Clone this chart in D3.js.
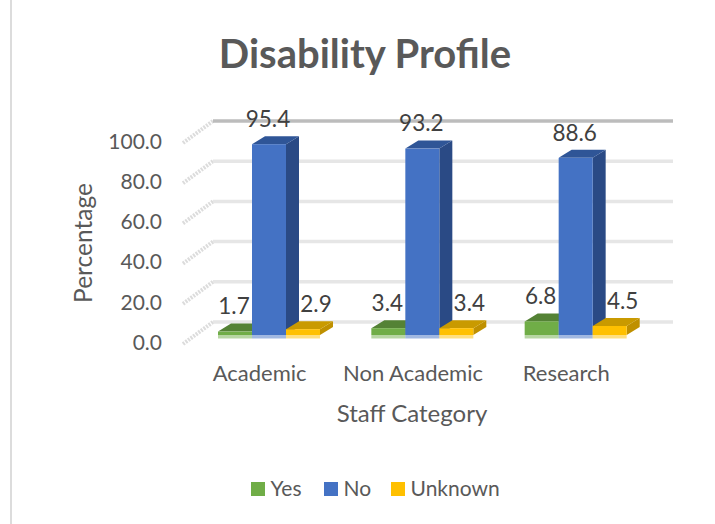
<!DOCTYPE html>
<html lang="en">
<head>
    <meta charset="UTF-8">
    <title>Disability Profile</title>
    <script src="https://cdnjs.cloudflare.com/ajax/libs/d3/7.8.5/d3.min.js"></script>
    <style>
        html, body { margin: 0; padding: 0; background: #fff; }
        svg { display: block; }
        text { font-family: Lato, "Open Sans", sans-serif; fill: #595959; }
        .grid { stroke: #e6e6e6; stroke-width: 3.5px; }
        .grid-top { stroke: #bcbcbc; }
        .hatch { stroke: #dcdcdc; stroke-width: 4px; stroke-dasharray: 2 1.2; }
        .label { fill: #404040; font-size: 22.5px; text-anchor: middle; }
    </style>
</head>
<body>
<script>
    var categories = ['Academic', 'Non Academic', 'Research'];
    var seriesNames = ['Yes', 'No', 'Unknown'];
    var yesValues = [1.7, 3.4, 6.8];
    var noValues = [95.4, 93.2, 88.6];
    var unknownValues = [2.9, 3.4, 4.5];
    var yTicks = [0, 20, 40, 60, 80, 100];

    var seriesValues = [yesValues, noValues, unknownValues];
    var front = ['#70ad47', '#4472c4', '#ffc000'];
    var topFace = ['#548235', '#2f5597', '#c99a00'];
    var sideFace = ['#4f7a32', '#2a4a85', '#bf9000'];

    var width = 715, height = 524;
    var svg = d3.select('body').append('svg').attr('width', width).attr('height', height);

    svg.append('rect').attr('x', 10).attr('y', 0).attr('width', 2).attr('height', height).attr('fill', '#dcdcdc');

    // wall depth and bar depth in the fake 3d
    var wallDx = 30, wallDy = -22;
    var barDx = 13, barDy = -8;

    var x = d3.scaleBand().domain(categories).range([183, 643]);
    var sub = d3.scaleBand().domain(d3.range(3)).range([35, 137]);
    var y = d3.scaleLinear().domain([0, 100]).range([344, 143]);
    // bars stand a bit inside the floor
    var barBase = 335, barScale = 2;

    var g = svg.append('g');
    yTicks.forEach(function(t) {
        g.append('line').attr('class', 'hatch')
            .attr('x1', x.range()[0]).attr('y1', y(t))
            .attr('x2', x.range()[0] + wallDx).attr('y2', y(t) + wallDy);
        g.append('line').attr('class', t == 100 ? 'grid grid-top' : 'grid')
            .attr('x1', x.range()[0] + wallDx).attr('y1', y(t) + wallDy)
            .attr('x2', x.range()[1] + wallDx).attr('y2', y(t) + wallDy);
        svg.append('text')
            .attr('x', 162).attr('y', y(t) - 1.5).attr('dy', '0.35em')
            .attr('text-anchor', 'end').style('font-size', '21px')
            .text(d3.format('.1f')(t));
    });

    function poly(pts, fill) {
        g.append('polygon').attr('points', pts.map(function(p) { return p.join(','); }).join(' ')).attr('fill', fill);
    }

    categories.forEach(function(cat, c) {
        seriesNames.forEach(function(name, s) {
            var v = seriesValues[s][c];
            var x0 = x(cat) + sub(s), x1 = x0 + sub.bandwidth();
            var yTop = barBase - v * barScale;
            // side, top, front, then the pale strip under the bar
            poly([[x1, yTop], [x1 + barDx, yTop + barDy], [x1 + barDx, barBase + barDy], [x1, barBase]], sideFace[s]);
            poly([[x0, yTop], [x0 + barDx, yTop + barDy], [x1 + barDx, yTop + barDy], [x1, yTop]], topFace[s]);
            g.append('rect').attr('x', x0).attr('y', yTop).attr('width', x1 - x0).attr('height', barBase - yTop).attr('fill', front[s]);
            g.append('rect').attr('x', x0).attr('y', barBase).attr('width', x1 - x0).attr('height', 3.5).attr('fill', front[s]).attr('opacity', 0.5);
        });
    });

    categories.forEach(function(cat, c) {
        seriesNames.forEach(function(name, s) {
            var v = seriesValues[s][c];
            var xc = x(cat) + sub(s) + sub.bandwidth() / 2 + (s == 2 ? 13 : -1);
            svg.append('text').attr('class', 'label')
                .attr('x', xc).attr('y', barBase - v * barScale + barDy - 17).attr('dy', '0.35em')
                .text(d3.format('.1f')(v));
        });
        svg.append('text')
            .attr('x', x(cat) + x.bandwidth() / 2).attr('y', 381)
            .attr('text-anchor', 'middle').style('font-size', '22px').text(cat);
    });

    svg.append('text').attr('x', 365).attr('y', 68).attr('text-anchor', 'middle')
        .style('font-size', '40px').style('font-weight', 'bold').text('Disability Profile');
    svg.append('text').attr('transform', 'translate(92,243) rotate(-90)').attr('text-anchor', 'middle')
        .style('font-size', '24.5px').text('Percentage');
    svg.append('text').attr('x', 412).attr('y', 422).attr('text-anchor', 'middle')
        .style('font-size', '24px').text('Staff Category');

    // legend
    var legendX = [251, 324, 391];
    seriesNames.forEach(function(name, s) {
        svg.append('rect').attr('x', legendX[s]).attr('y', 482).attr('width', 14).attr('height', 14).attr('fill', front[s]);
        svg.append('text').attr('x', legendX[s] + 19.5).attr('y', 496).style('font-size', '21px').text(name);
    });
</script>
</body>
</html>
